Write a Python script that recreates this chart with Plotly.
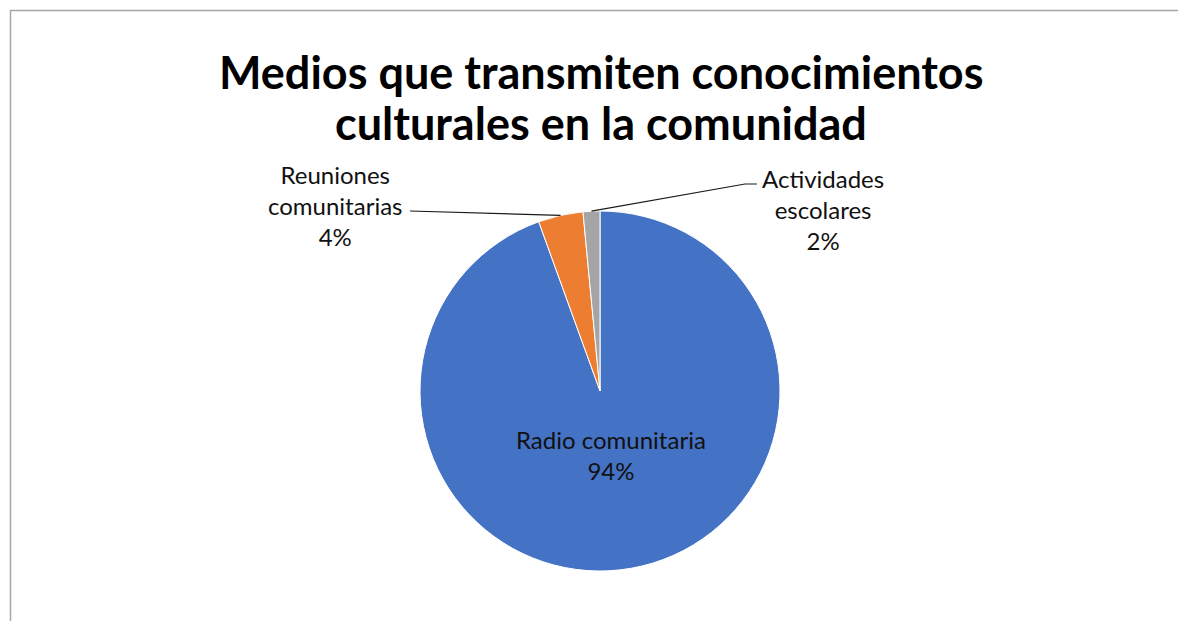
import math
import plotly.graph_objects as go

# ---- data ----
categories = ["Radio comunitaria", "Reuniones comunitarias", "Actividades escolares"]
values = [94, 4, 1.5]
colors = ["#4472C4", "#ED7D31", "#A5A5A5"]
title_lines = ["Medios que transmiten conocimientos", "culturales en la comunidad"]

W, H = 1178, 621
FONT = "Lato"
LABEL_SIZE = 24
TEXT_COLOR = "#111111"

# pie geometry (pixels)
cx, cy, R = 600, 391, 180
dom_x = [(cx - R) / W, (cx + R) / W]
dom_y = [1 - (cy + R) / H, 1 - (cy - R) / H]

total = sum(values)
pcts = [v / total for v in values]

fig = go.Figure(go.Pie(
    labels=categories,
    values=values,
    sort=False,
    direction="clockwise",
    rotation=0,
    marker=dict(colors=colors, line=dict(color="white", width=1)),
    textinfo="none",
    domain=dict(x=dom_x, y=dom_y),
    showlegend=False,
    hoverinfo="label+percent",
))


def px2paper(x, y):
    return x / W, 1 - y / H


# mid angles of slices (degrees clockwise from top)
cum = 0
mids = []
for p in pcts:
    mids.append((cum + p / 2) * 360)
    cum += p


def edge_point(angle_deg):
    a = math.radians(angle_deg)
    return cx + R * math.sin(a), cy - R * math.cos(a)


shapes = []
annotations = []

# Inside label for the big slice
ix, iy = px2paper(611, 455)
annotations.append(dict(
    x=ix, y=iy, xref="paper", yref="paper",
    text=f"{categories[0]}<br>{round(pcts[0] * 100)}%",
    showarrow=False, xanchor="center", yanchor="middle", align="center",
    font=dict(family=FONT, size=LABEL_SIZE, color=TEXT_COLOR),
))

# Outside labels with leader lines
outside = {
    1: dict(text_xy=(335, 206), line=[(410, 211)]),
    2: dict(text_xy=(823, 210), line=[(757, 184), (745, 184)]),
}
for i, spec in outside.items():
    tip = edge_point(mids[i])
    pts = spec["line"] + [tip]
    path = ""
    for k, (x, y) in enumerate(pts):
        px, py = px2paper(x, y)
        path += ("M" if k == 0 else "L") + f"{px},{py} "
    shapes.append(dict(type="path", xref="paper", yref="paper", path=path,
                       line=dict(color="#1a1a1a", width=1.2)))
    words = categories[i].split(" ")
    txt = "<br>".join(words) + f"<br>{round(pcts[i] * 100)}%"
    tx, ty = px2paper(*spec["text_xy"])
    annotations.append(dict(x=tx, y=ty, xref="paper", yref="paper", text=txt,
                            showarrow=False, xanchor="center", yanchor="middle",
                            font=dict(family=FONT, size=LABEL_SIZE, color=TEXT_COLOR),
                            align="center"))

# Title (two lines)
for line, y in zip(title_lines, [72, 123]):
    tx, ty = px2paper(601, y)
    annotations.append(dict(
        x=tx, y=ty, xref="paper", yref="paper",
        text=f"<b>{line}</b>",
        showarrow=False, xanchor="center", yanchor="middle",
        font=dict(family=FONT, size=45, color="#000000"), align="center",
    ))

# chart-area border (top and left visible)
bx0, by0 = px2paper(10.5, 10.5)
shapes.append(dict(type="rect", xref="paper", yref="paper",
                   x0=bx0, y0=-0.05, x1=1.05, y1=by0,
                   line=dict(color="#A6A6A6", width=1.5), layer="below"))

fig.update_layout(
    width=W, height=H,
    margin=dict(l=0, r=0, t=0, b=0),
    paper_bgcolor="white",
    plot_bgcolor="white",
    shapes=shapes,
    annotations=annotations,
)

fig.write_html("out.html", config={"displayModeBar": False},
               post_script="document.body.style.margin='0px';")
